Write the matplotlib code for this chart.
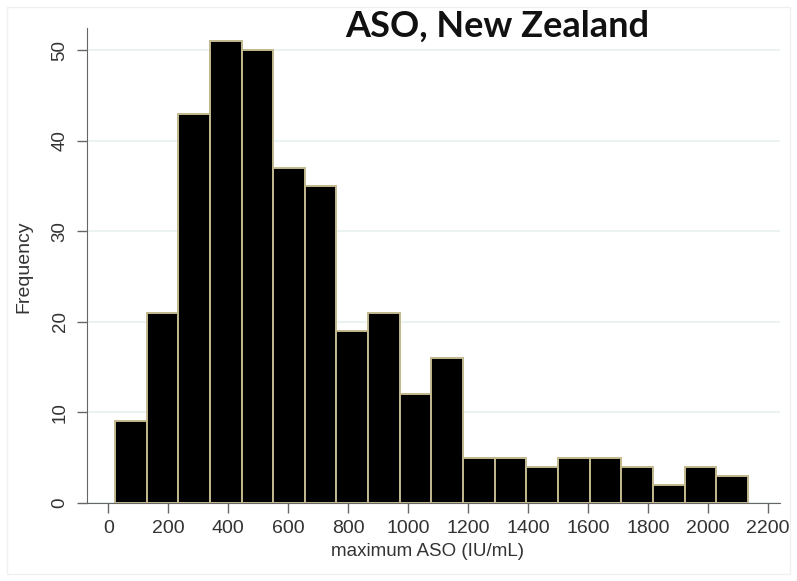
import numpy as np
import matplotlib
matplotlib.use('Agg')
import matplotlib.pyplot as plt
from matplotlib.patches import Rectangle

# histogram of maximum ASO
counts = [9, 21, 43, 51, 50, 37, 35, 19, 21, 12, 16, 5, 5, 4, 5, 5, 4, 2, 4, 3]
bin_start = 22
bin_width = 105.6
xticks = np.arange(0, 2201, 200)
yticks = [0, 10, 20, 30, 40, 50]

edges = bin_start + bin_width * np.arange(len(counts))

fig = plt.figure(figsize=(7.97, 5.81), dpi=100)
ax = fig.add_axes([0.1088, 0.1343, 0.8699, 0.8175])

ax.bar(edges, counts, width=bin_width, align='edge', color='black',
       edgecolor='#c2b98f', linewidth=1.4, zorder=3)

ax.set_xlim(-72, 2241)
ax.set_ylim(0, 52.45)
ax.set_xticks(xticks)
ax.set_yticks(yticks)
ax.grid(True, axis='y', color='#e6f0f0', linewidth=1.2, zorder=0)
ax.tick_params(axis='both', direction='out', length=7, width=1, color='#666666',
               labelcolor='#333333')
ax.tick_params(axis='x', labelsize=14, pad=5.5)
ax.tick_params(axis='y', labelsize=13.5, pad=6, labelrotation=90)
for lab in ax.get_yticklabels():
    lab.set_verticalalignment('center')
for lab in ax.get_xticklabels() + ax.get_yticklabels():
    lab.set_family('Liberation Sans')

ax.spines['top'].set_visible(False)
ax.spines['right'].set_visible(False)
ax.spines['left'].set_color('#666666')
ax.spines['bottom'].set_color('#666666')

fig.text(427 / 797, 1 - 551 / 581, 'maximum ASO (IU/mL)', fontsize=13.5,
         color='#333333', family='Liberation Sans', ha='center', va='center')
fig.text(24 / 797, 1 - 267 / 581, 'Frequency', fontsize=14, rotation=90,
         color='#333333', family='Liberation Sans', ha='center', va='center')

fig.text(497 / 797, 1 - 37 / 581, 'ASO, New Zealand', fontsize=26, fontweight='bold',
         family='Lato', ha='center', va='baseline', color='#111111')

fig.patches.append(Rectangle((0.009, 0.012), 0.982, 0.976, transform=fig.transFigure,
                             fill=False, edgecolor='#f0f0f0', linewidth=1))

fig.savefig('out.png', dpi=100)
